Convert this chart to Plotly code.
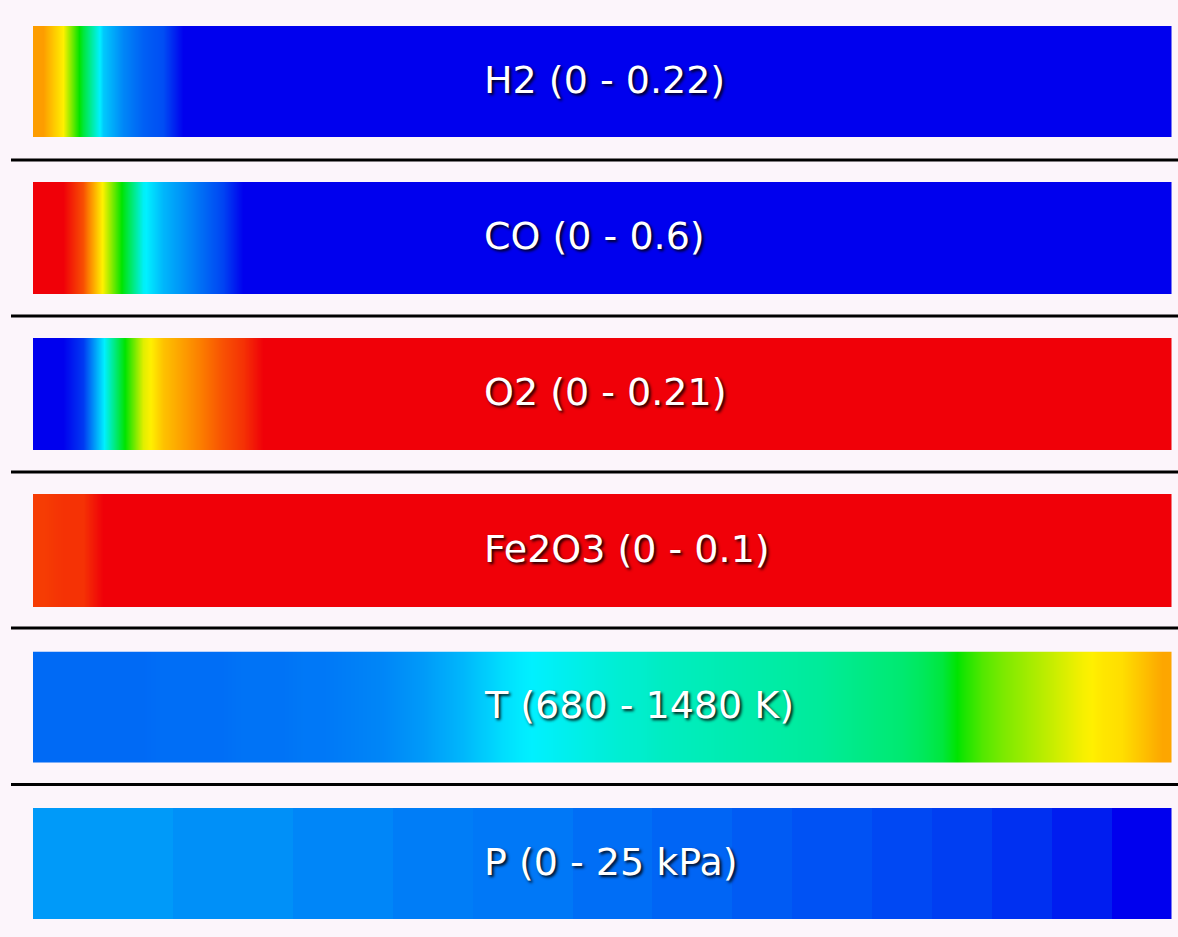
import plotly.graph_objects as go

# ---------------- data (normalised 0..1 within each strip's range) ----------------
labels = ["H2 (0 - 0.22)", "CO (0 - 0.6)", "O2 (0 - 0.21)",
          "Fe2O3 (0 - 0.1)", "T (680 - 1480 K)", "P (0 - 25 kPa)"]

N = 57  # cells along the reactor

h2 = [0.84, 0.75, 0.44, 0.21, 0.14, 0.10, 0.08, 0.0] + [0.0] * 49
co = [1.0, 1.0, 0.92, 0.74, 0.48, 0.26, 0.19, 0.15, 0.11, 0.07, 0.0] + [0.0] * 46
o2 = [0.0, 0.0, 0.06, 0.24, 0.48, 0.72, 0.80, 0.84, 0.88, 0.92, 0.95] + [1.0] * 46
fe2o3 = [0.94, 0.95, 0.95, 1.0] + [1.0] * 53
temp = [0.11, 0.11, 0.11, 0.11, 0.11, 0.11, 0.115, 0.115, 0.115, 0.115,
        0.12, 0.12, 0.12, 0.125, 0.125, 0.13, 0.135, 0.14, 0.15, 0.16,
        0.175, 0.19, 0.21, 0.23, 0.245, 0.255, 0.265, 0.275, 0.285, 0.295,
        0.30, 0.31, 0.315, 0.32, 0.325, 0.33, 0.335, 0.34, 0.345, 0.35,
        0.36, 0.37, 0.38, 0.39, 0.41, 0.44, 0.52, 0.58, 0.62, 0.65,
        0.68, 0.71, 0.74, 0.76, 0.77, 0.80, 0.83]
pres = ([0.16] * 7 + [0.15] * 6 + [0.14] * 5 + [0.13] * 4 + [0.125] * 5 +
        [0.115] * 4 + [0.105] * 4 + [0.095] * 3 + [0.085] * 4 + [0.075] * 3 +
        [0.065] * 3 + [0.05] * 3 + [0.03] * 3 + [0.0] * 3)

series = [h2, co, o2, fe2o3, temp, pres]
smooth = ["best", "best", "best", "best", "best", False]

# ---------------- layout geometry (pixels) ----------------
W, H = 1178, 937
strip_px = [(26, 137), (182, 294), (338, 450), (494, 607), (651.5, 763), (808, 919)]
line_px = [160, 316, 472, 628, 784.5]
x_left, x_right = 33, 1171.5
label_x = 482
BG = "#fcf5fb"

colorscale = [
    [0.0, "rgb(0,0,238)"],
    [0.25, "rgb(0,240,255)"],
    [0.5, "rgb(0,228,0)"],
    [0.75, "rgb(255,240,0)"],
    [0.875, "rgb(252,125,0)"],
    [1.0, "rgb(240,0,8)"],
]

xc = [(i + 0.5) / N for i in range(N)]

fig = go.Figure()
layout = dict(
    width=W, height=H,
    margin=dict(l=0, r=0, t=0, b=0),
    paper_bgcolor=BG,
    plot_bgcolor=BG,
    showlegend=False,
)

annotations = []
for k, (vals, lab, (top, bot)) in enumerate(zip(series, labels, strip_px)):
    idx = "" if k == 0 else str(k + 1)
    fig.add_trace(go.Heatmap(
        z=[vals], x=xc, y=[0],
        colorscale=colorscale, zmin=0, zmax=1, showscale=False,
        zsmooth=smooth[k],
        xaxis="x" + idx, yaxis="y" + idx,
        hoverinfo="skip",
    ))
    layout["xaxis" + idx] = dict(domain=[x_left / W, x_right / W], range=[0, 1],
                                 visible=False, fixedrange=True,
                                 anchor="y" + idx)
    layout["yaxis" + idx] = dict(domain=[1 - bot / H, 1 - top / H], range=[-0.5, 0.5],
                                 visible=False, fixedrange=True,
                                 anchor="x" + idx)
    annotations.append(dict(
        text=lab, xref="paper", yref="paper",
        x=label_x / W, y=1 - ((top + bot) / 2 - 2) / H,
        xanchor="left", yanchor="middle", showarrow=False,
        font=dict(family="DejaVu Sans", size=38, color="white",
                  shadow="2px 2px 3px rgba(0,0,0,0.9)"),
    ))

shapes = [dict(type="line", xref="paper", yref="paper",
               x0=11 / W, x1=1, y0=1 - y / H, y1=1 - y / H,
               line=dict(color="black", width=3)) for y in line_px]

layout["annotations"] = annotations
layout["shapes"] = shapes
fig.update_layout(**layout)

fig.write_html(
    "out.html",
    config={"displayModeBar": False},
    post_script="document.body.style.margin='0';document.body.style.background='%s';" % BG,
)
